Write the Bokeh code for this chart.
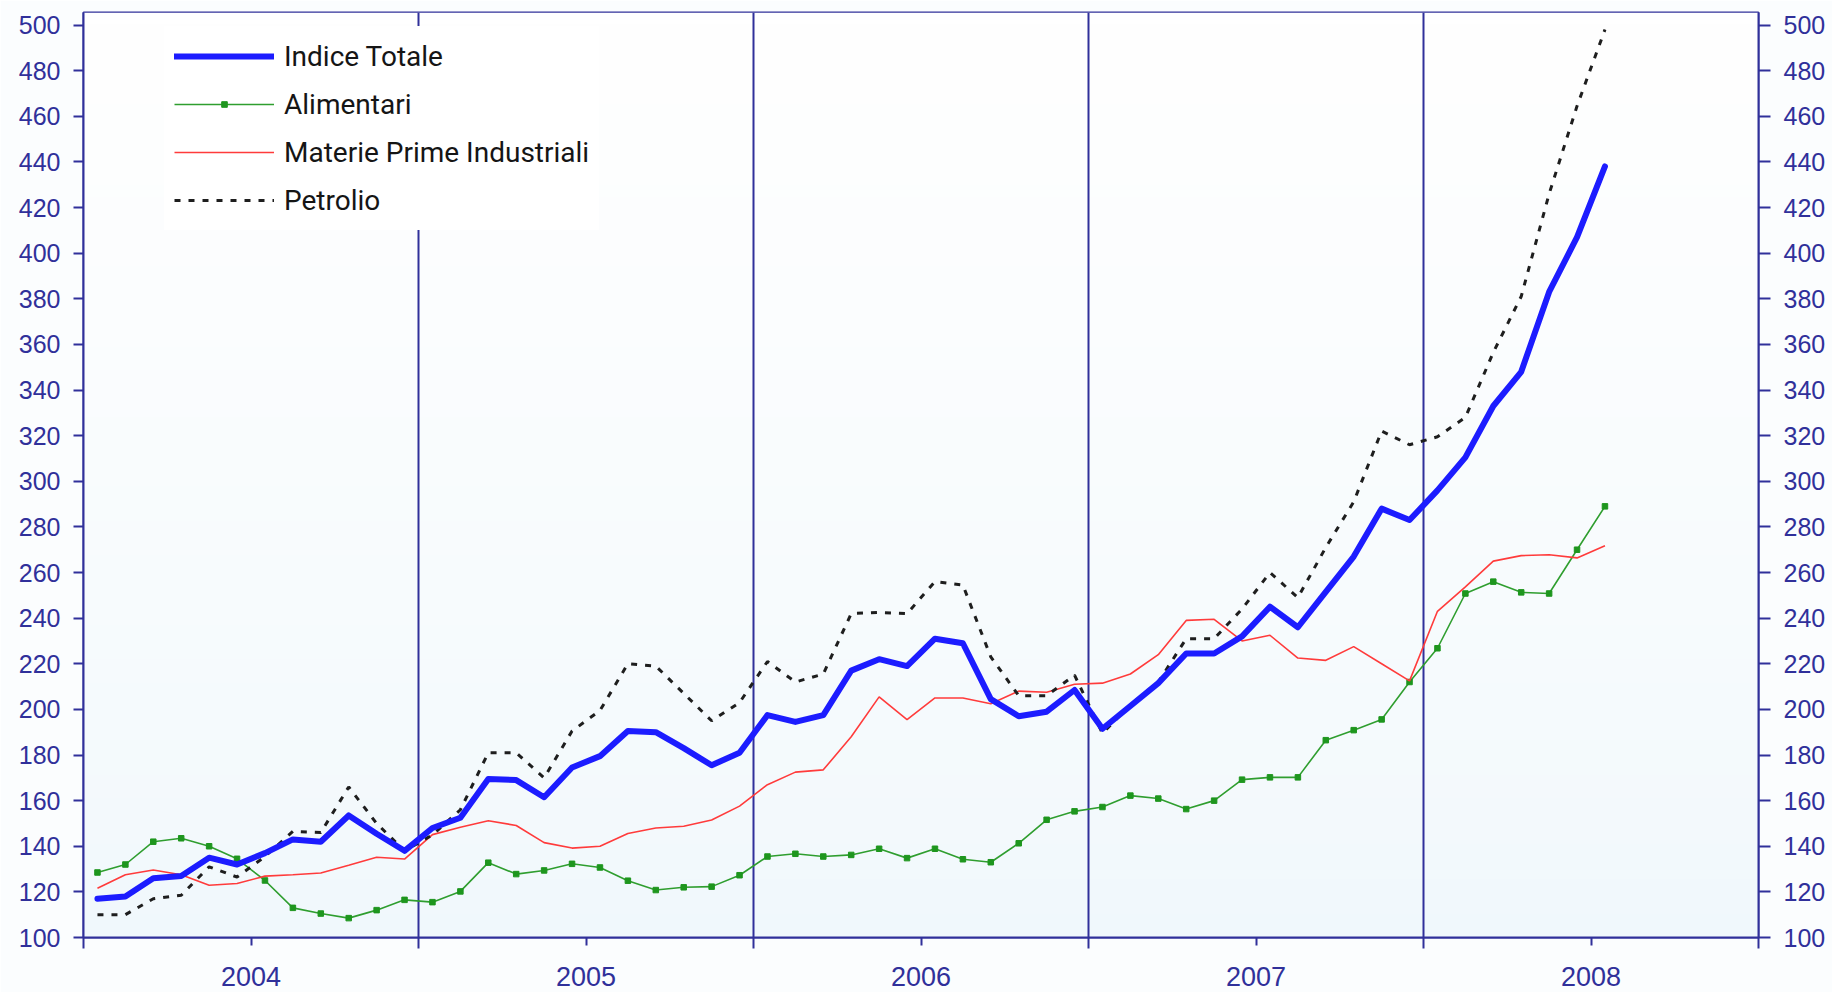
import numpy as np
from bokeh.plotting import figure
from bokeh.models import Range1d, LinearAxis, FixedTicker, Span, Legend, LegendItem
from bokeh.embed import file_html
from bokeh.resources import INLINE

# ---------------- data ----------------
start_year = 2004
end_year = 2009
year_labels = ["2004", "2005", "2006", "2007", "2008"]
y_ticks = list(range(100, 501, 20))

series_names = ["Indice Totale", "Alimentari", "Materie Prime Industriali", "Petrolio"]

# monthly values, Jan 2004 - Jul 2008
indice_totale = [
    117, 118, 126, 127, 135, 132, 137, 143, 142, 153.5, 145.5, 138,
    148, 152.5, 169.5, 169, 161.5, 174.5, 179.5, 190.5, 190, 183, 175.5, 181,
    197.5, 194.5, 197.5, 217, 222, 219, 231, 229, 204.5, 197, 199, 208.5,
    191.5, 201.5, 211.5, 224.5, 224.5, 232, 245, 236, 251.5, 267, 288, 283,
    296, 310.5, 333, 348, 383, 407, 438]

alimentari = [
    128.5, 132, 142, 143.5, 140, 134.5, 125, 113, 110.5, 108.5, 112, 116.5,
    115.5, 120.2, 132.8, 127.8, 129.4, 132.3, 130.7, 124.9, 120.8, 122, 122.3, 127.3,
    135.5, 136.7, 135.5, 136.2, 138.9, 134.8, 138.9, 134.3, 133, 141.3, 151.6, 155.3,
    157.2, 162.2, 160.9, 156.3, 160, 169.2, 170.2, 170.2, 186.5, 190.9, 195.6, 212,
    226.8, 250.8, 256, 251.3, 250.8, 270, 289]

materie_prime = [
    121.6, 127.5, 129.6, 127.5, 122.9, 123.7, 126.9, 127.5, 128.3, 131.7, 135.2, 134.4,
    145.1, 148.3, 151.2, 149.1, 141.6, 139.2, 140, 145.6, 148, 148.8, 151.5, 157.6,
    167, 172.5, 173.5, 188, 205.5, 195.5, 205, 205, 202.5, 208, 207.5, 211,
    211.5, 215.5, 224, 239, 239.5, 230, 232.5, 222.5, 221.5, 227.5, 220, 212.5,
    243, 253.7, 265, 267.4, 267.8, 266.4, 271.7]

petrolio = [
    110, 110, 117, 118.5, 131, 126.5, 135.5, 146.5, 146, 166, 150, 138,
    145, 156, 181, 181, 170, 190.5, 199.5, 220, 219, 207, 195, 203,
    221, 212, 215.5, 242, 242.5, 242, 256, 254.5, 223, 206, 206, 215,
    189.5, 202, 212, 231, 231, 244, 260, 249, 271, 291, 322, 316,
    319.5, 328, 356.5, 381, 426, 464.5, 498]

# month positions (mid-month, in fractional years)
months = [start_year + (i + 0.5) / 12 for i in range(len(indice_totale))]

# ---------------- styles ----------------
NAVY = "#30309a"
BLUE = "#1c1cff"
GREEN = "#2f9e2f"
GREEN_MK = "#1e961e"
RED = "#ff3b3b"
BLACK = "#1e1e1e"

y_min, y_max = 100, 505.5

p = figure(frame_width=1675, frame_height=925,
           x_range=Range1d(start_year, end_year), y_range=Range1d(y_min, y_max),
           output_backend="svg", toolbar_location=None,
           min_border_left=83, min_border_right=74, min_border_top=12, min_border_bottom=55)

p.xgrid.visible = False
p.ygrid.visible = False
p.border_fill_color = "#fbfdfe"
p.background_fill_color = "#ffffff"
p.outline_line_color = NAVY
p.outline_line_width = 2

# subtle vertical background gradient (white at top -> pale blue at bottom)
rows = 80
t = np.linspace(0, 1, rows)[:, None] ** 0.7
bot = np.array([240, 248, 252], dtype=float)
top = np.array([255, 255, 255], dtype=float)
cols = (bot * (1 - t) + top * t).astype(np.uint8)
img = np.empty((rows, 1), dtype=np.uint32)
view = img.view(dtype=np.uint8).reshape((rows, 1, 4))
view[:, 0, 0:3] = cols
view[:, 0, 3] = 255
bg = p.image_rgba(image=[img], x=start_year, y=y_min, dw=end_year - start_year, dh=y_max - y_min)
bg.level = "image"

# year separators
for yr in range(start_year + 1, end_year):
    p.add_layout(Span(location=yr, dimension="height", line_color=NAVY, line_width=2, level="underlay"))

# series
r_alim = p.line(months, alimentari, line_color=GREEN, line_width=1.6)
r_alim_m = p.scatter(months, alimentari, marker="square", size=5.5, fill_color=GREEN_MK, line_color=GREEN_MK)
r_mat = p.line(months, materie_prime, line_color=RED, line_width=1.6)
r_pet = p.line(months, petrolio, line_color=BLACK, line_width=3, line_dash="6 8")
r_tot = p.line(months, indice_totale, line_color=BLUE, line_width=6, line_join="round", line_cap="round")

# ---------------- axes ----------------
def style_y(ax, tick_out):
    ax.ticker = FixedTicker(ticks=y_ticks)
    ax.axis_line_color = NAVY
    ax.axis_line_width = 2
    ax.major_tick_line_color = NAVY
    ax.major_tick_line_width = 2
    ax.major_tick_out = tick_out
    ax.major_tick_in = 0
    ax.minor_tick_line_color = None
    ax.major_label_text_font = "Liberation Sans"
    ax.major_label_text_font_size = "25px"
    ax.major_label_text_color = NAVY
    ax.major_label_standoff = 13

style_y(p.yaxis[0], 10)
right_axis = LinearAxis()
style_y(right_axis, 12)
p.add_layout(right_axis, "right")

xa = p.xaxis[0]
label_pos = [start_year + k + 0.5 for k in range(len(year_labels))]
xa.ticker = FixedTicker(ticks=label_pos, minor_ticks=list(range(start_year, end_year + 1)))
xa.major_label_overrides = {pos: lab for pos, lab in zip(label_pos, year_labels)}
xa.axis_line_color = NAVY
xa.axis_line_width = 2
xa.major_tick_line_color = NAVY
xa.major_tick_line_width = 2
xa.major_tick_out = 8
xa.major_tick_in = 0
xa.minor_tick_line_color = NAVY
xa.minor_tick_line_width = 2
xa.minor_tick_out = 11
xa.minor_tick_in = 0
xa.major_label_text_font = "Liberation Sans"
xa.major_label_text_font_size = "27px"
xa.major_label_text_color = NAVY
xa.major_label_standoff = 18

# ---------------- legend ----------------
legend = Legend(items=[
    LegendItem(label=series_names[0], renderers=[r_tot]),
    LegendItem(label=series_names[1], renderers=[r_alim, r_alim_m]),
    LegendItem(label=series_names[2], renderers=[r_mat]),
    LegendItem(label=series_names[3], renderers=[r_pet]),
], location=(81, 707))
legend.glyph_width = 100
legend.glyph_height = 14
legend.label_height = 40
legend.label_standoff = 10
legend.spacing = 8
legend.padding = 10
legend.margin = 0
legend.background_fill_color = "#ffffff"
legend.background_fill_alpha = 1
legend.border_line_alpha = 0
legend.label_text_font = "Roboto"
legend.label_text_font_size = "28px"
legend.label_text_color = "#151515"
p.add_layout(legend)

open("out.html", "w").write(file_html(p, INLINE))
